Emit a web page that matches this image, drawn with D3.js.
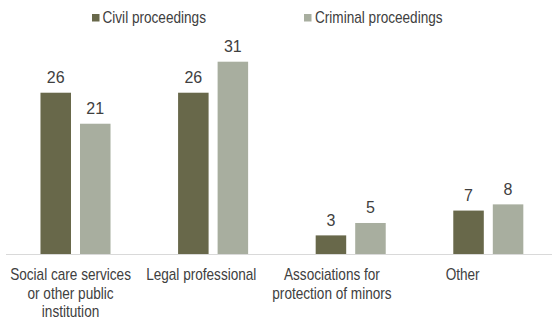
<!DOCTYPE html>
<html>
<head>
<meta charset="utf-8">
<script src="https://cdn.jsdelivr.net/npm/d3@7"></script>
<style>
html,body{margin:0;padding:0;background:#fff;}
svg{display:block;}
</style>
</head>
<body>
<script>
const categories = ["Social care services", "Legal professional", "Associations for protection of minors", "Other"];
const categoryLines = [["Social care services","or other public","institution"],["Legal professional"],["Associations for","protection of minors"],["Other"]];
const seriesNames = ["Civil proceedings", "Criminal proceedings"];
const civil = [26, 26, 3, 7];
const criminal = [21, 31, 5, 8];
const colors = ["#68684a", "#a8ae9f"];

const W = 552, H = 324;
const svg = d3.select("body").append("svg").attr("width", W).attr("height", H);

const regular = "'Liberation Sans',Arial,sans-serif";
const SX = 0.85;

const baseY = 254;
const y = d3.scaleLinear().domain([0, 31]).range([baseY, 61.7]);
const x0 = d3.scaleBand().domain(categories).range([6.7, 557.1]).paddingInner(0.491).paddingOuter(0.2455);
const x1 = d3.scaleBand().domain(seriesNames).range([0, x0.bandwidth()]).paddingInner(0.228);
const xl = d3.scaleBand().domain(categories).range([5.2, 528]);

const data = categories.map((c, i) => ({cat: c, vals: [civil[i], criminal[i]]}));

// axis line
svg.append("line").attr("x1", 6).attr("x2", W).attr("y1", baseY + 0.5).attr("y2", baseY + 0.5)
  .attr("stroke", "#d9d9d9").attr("stroke-width", 1);

const g = svg.selectAll("g.grp").data(data).enter().append("g")
  .attr("transform", d => `translate(${x0(d.cat)},0)`);

g.selectAll("rect").data(d => d.vals.map((v, j) => ({s: seriesNames[j], v, j}))).enter().append("rect")
  .attr("x", d => x1(d.s)).attr("width", x1.bandwidth())
  .attr("y", d => y(d.v)).attr("height", d => baseY - y(d.v))
  .attr("fill", d => colors[d.j]);

g.selectAll("text.val").data(d => d.vals.map((v, j) => ({s: seriesNames[j], v, j}))).enter().append("text")
  .attr("class", "val")
  .attr("x", d => x1(d.s) + x1.bandwidth() / 2).attr("y", d => y(d.v) - 9.5)
  .attr("text-anchor", "middle").attr("font-family", regular).attr("font-size", 16)
  .attr("fill", "#404040").text(d => d.v);

// category labels
const cl = svg.selectAll("g.cat").data(categories).enter().append("g")
  .attr("class", "cat")
  .attr("transform", d => `translate(${xl(d) + xl.bandwidth() / 2},0) scale(${SX},1)`)
  .append("text").attr("text-anchor", "middle")
  .attr("font-family", regular).attr("font-size", 16).attr("fill", "#404040");
cl.each(function(c, i) {
  const t = d3.select(this);
  categoryLines[i].forEach((ln, k) => {
    t.append("tspan").attr("x", 0).attr("y", 280.5 + k * 18.3).text(ln);
  });
});

// legend
const legX = [92, 304];
const legend = svg.selectAll("g.leg").data(seriesNames).enter().append("g")
  .attr("transform", (d, i) => `translate(${legX[i]},0)`);
legend.append("rect").attr("x", 0).attr("y", 14).attr("width", 7.5).attr("height", 7.5)
  .attr("fill", (d, i) => colors[i]);
legend.append("g")
  .attr("transform", (d, i) => `translate(${i === 0 ? 10.5 : 11},23.3) scale(${SX},1)`)
  .append("text").attr("x", 0).attr("y", 0)
  .attr("font-family", regular).attr("font-size", 16).attr("fill", "#404040").text(d => d);
</script>
</body>
</html>
